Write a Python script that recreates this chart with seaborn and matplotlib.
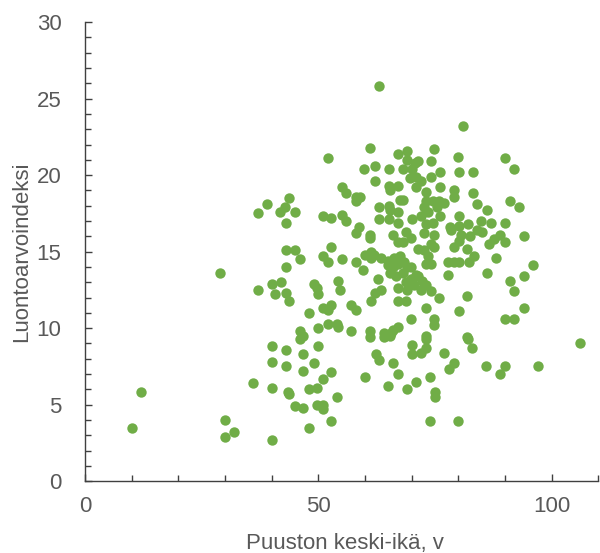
import matplotlib
matplotlib.use("Agg")
import matplotlib.pyplot as plt
from matplotlib.ticker import MultipleLocator
import seaborn as sns
import pandas as pd

# Stand age (years)
puuston_ika = [
    10, 12, 29, 30, 30, 32,
    36, 37, 37, 38.9, 40, 40, 40.8, 42, 41.8, 42.9, 43.8, 44.9, 43, 43, 44.9, 43, 43, 43.8,
    40, 43, 40, 43, 40, 43.8, 44.9, 43.4,
    46, 46.8, 46.8, 47.9, 47.9, 47.9, 49, 49, 49.6, 49.9, 49.8, 49.8, 50.9, 50.9, 50.9, 52.8, 52.8, 54,
    46.1, 46.8, 46.1, 46.8, 49.9, 49.9, 52, 53.9, 54.1, 50.9, 52, 52.8, 54.2, 54.7,
    52, 50.9, 52.8, 55, 55.9, 55, 55.9, 50.9, 52, 52.8, 55,
    58, 59, 58, 58, 58.7, 61, 61, 59.8, 62.1, 65.1, 61, 62.9, 62.1, 65.1, 65.3, 67, 63, 65.1, 65.3, 63, 65.1,
    58, 59.9, 61.3, 62, 63.5, 64.9, 61.3, 64.9, 59.6, 62.8, 63.5, 62.1, 61.3, 57, 58,
    57.1, 61, 61, 64.2, 65.3,
    60, 62.3, 63.1, 66, 67, 65, 64, 64, 65.5, 66, 67, 67,
    68.9, 67, 68.9, 70.7, 68.1, 70, 69.6, 70.9, 70.9, 67.4, 68.1, 67, 67, 70, 71.4, 74.1, 74.8, 71.9, 74.1, 73,
    73, 74.5, 75.9, 77, 75.5, 72.7, 73.4, 76.1, 71.9, 73, 74.5, 76.1, 76.1,
    66, 68.8, 67, 68.1, 69.9, 66.3, 67.4, 66, 67, 68.4, 69.1, 69.9, 65.3, 66.7, 68.1, 68.8, 69.9, 70.9,
    67, 69.1, 70.5, 68.8, 69.9,
    72.7, 74.8, 74.1, 74.8, 71.3, 72.7, 73.4, 74.1, 73, 71.3, 72.3, 73, 72, 74.1, 75.9, 73, 74.8, 74.8, 73,
    70, 72, 70, 73, 73, 69, 71, 74, 74.9, 74.9, 74,
    81, 80, 80.1, 83.2, 79.1, 79.1, 83.2, 84, 86.2, 80.1, 78.3, 80.2, 82, 84.8, 87, 90, 84, 85,
    78.4, 80.5, 80.1, 82.6, 79.1, 81.9, 86.5, 87.6, 88, 77.7, 79.1, 80.1, 82.3, 83.3, 77.9, 86.2,
    81.9, 80.1, 81.9, 83, 82, 77, 79, 78, 80,
    91, 93, 90, 92, 89, 94, 90, 96, 94, 91, 92, 94, 90, 92, 86, 90, 89, 97, 106,
]

# Nature value index
luontoarvoindeksi = [
    3.5, 5.8, 13.6, 4.0, 2.9, 3.2,
    6.4, 12.5, 17.5, 18.1, 2.7, 12.9, 12.2, 13.0, 17.6, 17.9, 18.5, 17.6, 16.9, 15.1, 15.1, 14.0, 12.3, 11.8,
    8.8, 8.6, 7.8, 7.5, 6.1, 5.7, 4.9, 5.8,
    14.5, 7.2, 4.8, 6.0, 3.5, 11.0, 7.7, 12.9, 12.6, 12.2, 6.1, 5.0, 5.0, 4.7, 6.7, 7.1, 3.9, 5.5,
    9.8, 9.5, 9.3, 8.3, 8.8, 10.0, 10.3, 10.3, 10.1, 11.3, 11.2, 11.5, 13.1, 12.5,
    21.1, 17.3, 17.2, 17.4, 17.0, 19.2, 18.8, 14.7, 14.3, 15.3, 14.5,
    18.6, 18.6, 18.3, 14.3, 16.6, 16.1, 15.9, 20.4, 20.6, 20.4, 21.8, 25.8, 19.6, 19.3, 19.0, 19.3, 17.9, 18.0, 17.7, 17.1, 17.1,
    16.2, 14.8, 15.0, 14.8, 14.6, 14.4, 14.6, 14.1, 13.8, 13.2, 12.5, 12.3, 11.8, 11.5, 11.2,
    9.8, 9.8, 9.4, 9.5, 9.5,
    6.8, 8.3, 7.9, 7.7, 7.0, 6.2, 9.4, 9.7, 9.7, 9.9, 10.1, 11.8,
    21.6, 21.4, 21.0, 20.8, 20.4, 20.4, 19.8, 19.9, 19.2, 18.4, 18.4, 17.6, 16.9, 17.1, 20.9, 20.9, 21.7, 19.6, 19.9, 18.9,
    18.3, 18.3, 18.3, 18.2, 17.9, 17.9, 17.6, 17.3, 17.3, 16.8, 16.9, 19.2, 20.2,
    16.1, 16.3, 15.6, 15.6, 15.9, 14.6, 14.7, 14.0, 14.2, 14.3, 14.0, 14.0, 13.6, 13.4, 13.6, 13.0, 13.2, 13.5,
    12.6, 12.5, 12.8, 11.8, 10.6,
    16.2, 16.1, 15.5, 15.3, 15.2, 15.1, 14.7, 14.2, 14.2, 13.4, 13.1, 12.8, 12.5, 12.4, 12.0, 11.3, 10.6, 10.2, 9.5,
    8.9, 8.4, 8.3, 8.7, 9.3, 6.0, 6.5, 6.8, 5.8, 5.5, 3.9,
    23.2, 21.2, 20.2, 20.2, 19.0, 18.6, 18.8, 18.1, 17.7, 17.3, 16.6, 16.7, 16.8, 17.0, 16.9, 16.9, 16.4, 16.3,
    16.4, 16.1, 15.7, 16.0, 15.3, 15.2, 15.5, 15.8, 14.6, 14.3, 14.3, 14.3, 14.3, 14.7, 13.5, 13.6,
    12.1, 11.1, 9.4, 8.7, 9.3, 8.4, 7.7, 7.3, 3.9,
    18.3, 17.9, 21.1, 20.4, 16.1, 16.0, 15.6, 14.1, 13.4, 13.1, 12.4, 11.3, 10.6, 10.6, 7.5, 7.5, 7.0, 7.5, 9.0,
]

df = pd.DataFrame({"ika": puuston_ika, "indeksi": luontoarvoindeksi})

sns.set_theme(style="white")
plt.rcParams["font.family"] = ["Liberation Sans", "DejaVu Sans"]

fig = plt.figure(figsize=(6.0, 5.53), dpi=100)
ax = fig.add_axes([0.142, 0.130, 0.855, 0.830])

sns.scatterplot(data=df, x="ika", y="indeksi", ax=ax, color="#70AD47",
                s=56, linewidth=0, alpha=1.0, zorder=3)

ax.set_xlim(0, 110)
ax.set_ylim(0, 30)
ax.xaxis.set_major_locator(MultipleLocator(50))
ax.xaxis.set_minor_locator(MultipleLocator(10))
ax.yaxis.set_major_locator(MultipleLocator(5))
ax.yaxis.set_minor_locator(MultipleLocator(1))

grey = "#595959"
for side in ["top", "right"]:
    ax.spines[side].set_visible(False)
for side in ["left", "bottom"]:
    ax.spines[side].set_color("#404040")
    ax.spines[side].set_linewidth(1.0)

ax.tick_params(axis="both", which="both", direction="in", colors="#404040",
               labelcolor=grey, labelsize=16, width=1.0)
ax.tick_params(axis="both", which="major", length=5)
ax.tick_params(axis="both", which="minor", length=4)
ax.tick_params(axis="y", which="both", left=True, pad=17)
ax.tick_params(axis="x", which="both", bottom=True, pad=11)

ax.set_xlabel("Puuston keski-ikä, v", fontsize=16, color=grey)
ax.set_ylabel("Luontoarvoindeksi", fontsize=16, color=grey)
ax.xaxis.set_label_coords(0.507, -0.135)
ax.yaxis.set_label_coords(-0.123, 0.5)
ax.xaxis.label.set_va("center")
ax.yaxis.label.set_va("center")

fig.savefig("out.png", dpi=100)
